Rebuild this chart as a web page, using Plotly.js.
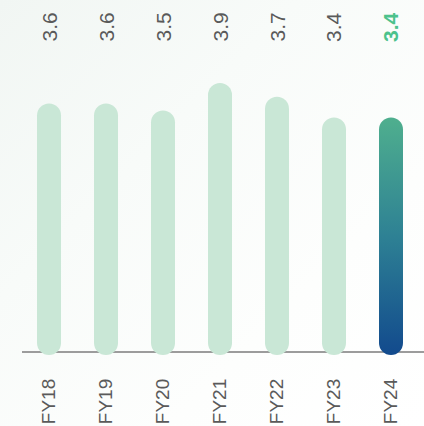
<!DOCTYPE html>
<html>
<head>
<meta charset="utf-8">
<script src="https://cdn.plot.ly/plotly-3.0.1.min.js"></script>
<style>
  html, body { margin: 0; padding: 0; }
  body { width: 424px; height: 426px; overflow: hidden;
         background: linear-gradient(135deg, #f1f6f3 0%, #f8fbf9 35%, #fdfefd 70%, #ffffff 100%); }
  #chart { width: 424px; height: 426px; }
</style>
</head>
<body>
<div id="chart"></div>
<script>
// ---- data ----
const categories = ['FY18', 'FY19', 'FY20', 'FY21', 'FY22', 'FY23', 'FY24'];
const values = [3.6, 3.6, 3.5, 3.9, 3.7, 3.4, 3.4];
const valueLabels = ['3.6', '3.6', '3.5', '3.9', '3.7', '3.4', '3.4'];
const highlightIndex = 6;

// ---- styling ----
const barColor = '#c9e7d6';
const gradTop = '#4faf8e';
const gradMid = '#2e8194';
const gradBottom = '#124a8d';
const labelColor = '#5a5a5a';
const highlightLabelColor = '#4cc28c';
const barPx = 24;                 // bar (pill) thickness in px
const yRange = [-0.116, 5.101];
const plotH = 360;                // plot area height in px
const unitPerPx = (yRange[1] - yRange[0]) / plotH;
const capU = (barPx / 2) * unitPerPx;   // round-cap radius in data units
const ext = 3 * unitPerPx;              // pills dip slightly below the baseline

// Build pill segments (round-capped thick lines) from the data
function pills(indices) {
  const xs = [], ys = [];
  indices.forEach(i => {
    xs.push(categories[i], categories[i], null);
    ys.push(-ext + capU, values[i] - capU, null);
  });
  return { xs, ys };
}
const normalIdx = categories.map((c, i) => i).filter(i => i !== highlightIndex);
const p1 = pills(normalIdx);
const p2 = pills([highlightIndex]);

const traces = [
  { type: 'scatter', mode: 'lines', x: p1.xs, y: p1.ys, connectgaps: false,
    line: { color: barColor, width: barPx }, hoverinfo: 'skip', showlegend: false },
  { type: 'scatter', mode: 'lines', x: p2.xs, y: p2.ys, connectgaps: false,
    line: { color: gradBottom, width: barPx }, hoverinfo: 'skip', showlegend: false }
];

const annotations = categories.map((c, i) => ({
  x: c, xref: 'x', y: 0.878, yref: 'paper', yanchor: 'bottom', xanchor: 'center',
  text: i === highlightIndex ? '<b>' + valueLabels[i] + '</b>' : valueLabels[i],
  textangle: -90, showarrow: false,
  font: { family: 'Liberation Sans, Arial, sans-serif', size: 21,
          color: i === highlightIndex ? highlightLabelColor : labelColor }
}));

const layout = {
  width: 424, height: 426,
  margin: { l: 22, r: 0, t: 0, b: 66 },
  paper_bgcolor: 'rgba(0,0,0,0)', plot_bgcolor: 'rgba(0,0,0,0)',
  xaxis: {
    type: 'category', categoryarray: categories, categoryorder: 'array',
    range: [-0.474, 6.579], showgrid: false, showline: false, zeroline: false,
    tickangle: -90, ticks: '', ticklabelstandoff: 14,
    tickfont: { family: 'Liberation Sans, Arial, sans-serif', size: 19, color: labelColor },
    fixedrange: true
  },
  yaxis: {
    range: yRange, showgrid: false, showticklabels: false, showline: false,
    zeroline: true, zerolinecolor: '#9c9c9c', zerolinewidth: 1.5, ticks: '', fixedrange: true
  },
  annotations: annotations
};

Plotly.newPlot('chart', traces, layout, { displayModeBar: false, staticPlot: true }).then(gd => {
  const svg = gd.querySelector('svg.main-svg');
  let defs = svg.querySelector('defs');
  const ns = 'http://www.w3.org/2000/svg';
  if (!defs) { defs = document.createElementNS(ns, 'defs'); svg.insertBefore(defs, svg.firstChild); }
  const ya = gd._fullLayout.yaxis;
  const grad = document.createElementNS(ns, 'linearGradient');
  grad.setAttribute('id', 'fy24grad');
  grad.setAttribute('gradientUnits', 'userSpaceOnUse');
  grad.setAttribute('x1', '0'); grad.setAttribute('x2', '0');
  grad.setAttribute('y1', String(ya.l2p(values[highlightIndex])));
  grad.setAttribute('y2', String(ya.l2p(-ext)));
  [[0, gradTop], [0.5, gradMid], [1, gradBottom]].forEach(([o, c]) => {
    const s = document.createElementNS(ns, 'stop');
    s.setAttribute('offset', String(o)); s.setAttribute('stop-color', c);
    grad.appendChild(s);
  });
  defs.appendChild(grad);
  const groups = gd.querySelectorAll('g.trace.scatter');
  groups.forEach((g, t) => {
    g.querySelectorAll('path.js-line').forEach(p => {
      p.style.strokeLinecap = 'round';
      if (t === 1) p.style.stroke = 'url(#fy24grad)';
    });
  });
});
</script>
</body>
</html>
